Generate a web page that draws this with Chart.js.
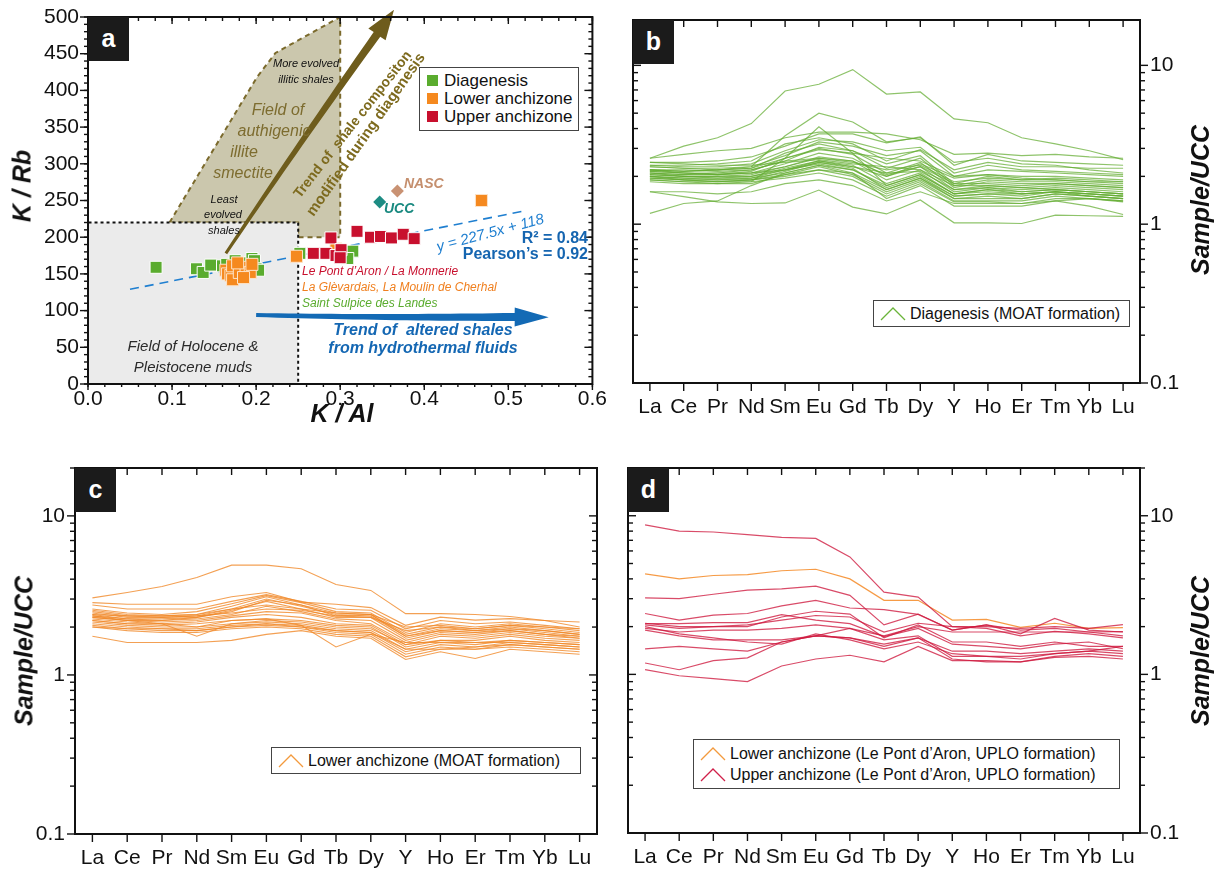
<!DOCTYPE html>
<html>
<head>
<meta charset="utf-8">
<script src="https://cdn.jsdelivr.net/npm/chart.js@4.4.1/dist/chart.umd.min.js"></script>
<style>
  body { margin: 0; background: #fff; font-family: 'Liberation Sans', Arial, sans-serif; color: #111; }
  #fig { position: relative; width: 1220px; height: 870px; overflow: hidden; background: #fff; }
  .panel { position: absolute; }
  .t { position: absolute; white-space: nowrap; line-height: 1; transform: translate(-50%, -50%); }
  .l { transform: translate(0, -50%); }
  .r { transform: translate(-100%, -50%); }
  .it { font-style: italic; }
  .b { font-weight: bold; }
  .ttl { font-weight: bold; font-style: italic; font-size: 25px; }
  .tag { position: absolute; width: 41px; height: 44px; background: #1b1b1b; color: #fff; font-weight: bold; font-size: 25px; text-align: center; line-height: 42px; }
  .leg { position: absolute; border: 1.5px solid #444; background: #fff; box-sizing: border-box; }
  .row { position: absolute; left: 0; white-space: nowrap; font-size: 16px; line-height: 1; }
  .row svg { position: absolute; left: 6px; top: -1px; }
  .row span { position: absolute; top: 0; }
  .sq { position: absolute; width: 11px; height: 11px; }
</style>
</head>
<body>
<div id="fig">
  <div class="panel" style="left:0;top:0"><canvas id="ca" width="610" height="430"></canvas></div>
  <div class="panel" style="left:610px;top:0"><canvas id="cb" width="610" height="430"></canvas></div>
  <div class="panel" style="left:0;top:430px"><canvas id="cc" width="610" height="440"></canvas></div>
  <div class="panel" style="left:610px;top:430px"><canvas id="cd" width="610" height="440"></canvas></div>

  <!-- panel a labels -->
  <div class="tag" style="left:88px;top:17px">a</div>
  <div class="t ttl" style="left:22px;top:186px;transform:translate(-50%,-50%) rotate(-90deg)">K / Rb</div>
  <div class="t ttl" style="left:342px;top:413px">K / Al</div>

  <div class="t it" style="left:306px;top:63px;font-size:11px">More evolved</div>
  <div class="t it" style="left:306px;top:79px;font-size:11px">illitic shales</div>
  <div class="t it" style="left:278px;top:110px;font-size:16px;color:#7d6c2f">Field of</div>
  <div class="t it" style="left:274px;top:131px;font-size:16px;color:#7d6c2f">authigenic</div>
  <div class="t it" style="left:244px;top:152px;font-size:16px;color:#7d6c2f">illite</div>
  <div class="t it" style="left:243px;top:173px;font-size:16px;color:#7d6c2f">smectite</div>
  <div class="t it" style="left:224px;top:199px;font-size:11px">Least</div>
  <div class="t it" style="left:223px;top:214px;font-size:11px">evolved</div>
  <div class="t it" style="left:224px;top:230px;font-size:11px">shales</div>
  <div class="t b" style="left:352px;top:124px;font-size:14px;color:#7d6a1e;transform:translate(-50%,-50%) rotate(-52deg)">Trend of&nbsp; shale compositon</div>
  <div class="t b" style="left:365px;top:134px;font-size:15px;color:#7d6a1e;transform:translate(-50%,-50%) rotate(-55deg)">modified during diagenesis</div>
  <div class="t l b it" style="left:404px;top:183px;font-size:14px;color:#c58f6e">NASC</div>
  <div class="t l b it" style="left:384px;top:208px;font-size:14px;color:#1a8a80">UCC</div>
  <div class="t it" style="left:490px;top:232px;font-size:15px;color:#1f7fd0;transform:translate(-50%,-50%) rotate(-15deg)">y = 227.5x + 118</div>
  <div class="t r b" style="left:588px;top:238px;font-size:16px;color:#1565b0">R² = 0.84</div>
  <div class="t r b" style="left:588px;top:254px;font-size:16px;color:#1565b0">Pearson’s = 0.92</div>
  <div class="t l it" style="left:302px;top:271px;font-size:12px;color:#c8102e">Le Pont d’Aron / La Monnerie</div>
  <div class="t l it" style="left:302px;top:287px;font-size:12px;color:#f08020">La Glèvardais, La Moulin de Cherhal</div>
  <div class="t l it" style="left:302px;top:303px;font-size:12px;color:#5aac2e">Saint Sulpice des Landes</div>
  <div class="t b it" style="left:423px;top:330px;font-size:16px;color:#1467b3">Trend of&nbsp; altered shales</div>
  <div class="t b it" style="left:423px;top:348px;font-size:16px;color:#1467b3">from hydrothermal fluids</div>
  <div class="t it" style="left:193px;top:345px;font-size:15px;color:#2a2a2a">Field of Holocene &amp;</div>
  <div class="t it" style="left:193px;top:366px;font-size:15px;color:#2a2a2a">Pleistocene muds</div>

  <div class="leg" style="left:419px;top:67px;width:160px;height:64px">
    <div class="sq" style="left:7px;top:7px;background:#5aac2e"></div>
    <div class="row" style="left:24px;top:4px;font-size:17px">Diagenesis</div>
    <div class="sq" style="left:7px;top:25px;background:#f5891f"></div>
    <div class="row" style="left:24px;top:22px;font-size:17px">Lower anchizone</div>
    <div class="sq" style="left:7px;top:43px;background:#c8102e"></div>
    <div class="row" style="left:24px;top:40px;font-size:17px">Upper anchizone</div>
  </div>

  <!-- panel b -->
  <div class="tag" style="left:633px;top:20px">b</div>
  <div class="t ttl" style="left:1200px;top:200px;transform:translate(-50%,-50%) rotate(-90deg)">Sample/UCC</div>
  <div class="leg" style="left:873px;top:300px;width:257px;height:27px">
    <div class="row" style="top:5px"><svg width="26" height="16"><polyline points="1,15 13,3 25,15" fill="none" stroke="#6ab43a" stroke-width="1.3"/></svg><span style="left:36px">Diagenesis (MOAT formation)</span></div>
  </div>

  <!-- panel c -->
  <div class="tag" style="left:75px;top:468px">c</div>
  <div class="t ttl" style="left:24px;top:651px;transform:translate(-50%,-50%) rotate(-90deg)">Sample/UCC</div>
  <div class="leg" style="left:271px;top:747px;width:310px;height:27px">
    <div class="row" style="top:5px"><svg width="26" height="16"><polyline points="1,15 13,3 25,15" fill="none" stroke="#f39a3d" stroke-width="1.3"/></svg><span style="left:36px">Lower anchizone (MOAT formation)</span></div>
  </div>

  <!-- panel d -->
  <div class="tag" style="left:628px;top:468px">d</div>
  <div class="t ttl" style="left:1200px;top:651px;transform:translate(-50%,-50%) rotate(-90deg)">Sample/UCC</div>
  <div class="leg" style="left:693px;top:739px;width:427px;height:50px">
    <div class="row" style="top:6px"><svg width="26" height="16"><polyline points="1,15 13,3 25,15" fill="none" stroke="#f39a3d" stroke-width="1.3"/></svg><span style="left:36px">Lower anchizone (Le Pont d’Aron, UPLO formation)</span></div>
    <div class="row" style="top:27px"><svg width="26" height="16"><polyline points="1,15 13,3 25,15" fill="none" stroke="#d0204a" stroke-width="1.3"/></svg><span style="left:36px">Upper anchizone (Le Pont d’Aron, UPLO formation)</span></div>
  </div>
</div>

<script>
const family = "'Liberation Sans', Arial, sans-serif";

// ---- panel a : K/Al vs K/Rb ----
const diagX = [0.081, 0.129, 0.137, 0.146, 0.160, 0.165, 0.175, 0.190, 0.195, 0.198, 0.200, 0.203, 0.252, 0.307, 0.315, 0.309];
const diagY = [159, 157, 152, 162, 161, 163, 168, 165, 171, 168, 157, 155, 178, 176, 181, 171];
const lowerX = [0.164, 0.166, 0.170, 0.172, 0.172, 0.180, 0.188, 0.193, 0.195, 0.178, 0.185, 0.248, 0.295, 0.468];
const lowerY = [155, 150, 148, 161, 142, 152, 159, 152, 163, 165, 145, 174, 184, 250];
const upperX = [0.268, 0.283, 0.289, 0.295, 0.301, 0.300, 0.320, 0.336, 0.348, 0.361, 0.375, 0.388];
const upperY = [178, 178, 199, 175, 183, 172, 208, 200, 201, 199, 204, 198];
const nascX = [0.368], nascY = [263];
const uccX = [0.347], uccY = [248];
const fitX = [0.05, 0.52], fitY = [129, 236];
const holoceneX = [0, 0, 0.25, 0.25, 0];
const holoceneY = [0, 220, 220, 0, 0];
const illiteX = [0.097, 0.201, 0.223, 0.300, 0.300, 0.250, 0.250, 0.097];
const illiteY = [220, 418, 451, 500, 200, 200, 220, 220];

// ---- panels b, c, d : REE normalised to UCC ----
const ree = ['La', 'Ce', 'Pr', 'Nd', 'Sm', 'Eu', 'Gd', 'Tb', 'Dy', 'Y', 'Ho', 'Er', 'Tm', 'Yb', 'Lu'];
const logTicks = [0.1, 1, 10];
const logTickLabels = ['0.1', '1', '10'];

const diagREE = [
  [2.6, 3.1, 3.5, 4.3, 6.9, 7.6, 9.4, 6.6, 6.8, 4.6, 4.35, 3.5, 3.2, 2.9, 2.55],
  [2.2, 2.15, 2.2, 2.3, 3.6, 5.0, 4.4, 3.3, 3.5, 2.45, 2.6, 2.4, 2.35, 2.2, 2.1],
  [1.95, 1.9, 1.85, 1.85, 2.6, 4.1, 2.8, 1.75, 2.05, 1.55, 1.65, 1.55, 1.6, 1.5, 1.45],
  [2.6, 2.75, 2.9, 3.0, 3.5, 3.8, 3.8, 3.7, 3.4, 2.75, 2.8, 2.7, 2.75, 2.65, 2.6],
  [2.45, 2.45, 2.5, 2.65, 3.1, 3.7, 3.7, 3.25, 3.55, 2.35, 2.75, 2.5, 2.45, 2.4, 2.35],
  [2.35, 2.3, 2.3, 2.4, 2.9, 3.4, 3.3, 2.9, 3.05, 2.1, 2.35, 2.2, 2.15, 2.1, 2.05],
  [2.3, 2.25, 2.25, 2.3, 2.7, 3.3, 3.1, 2.7, 2.9, 2.0, 2.2, 2.15, 2.1, 2.05, 2.0],
  [2.2, 2.15, 2.2, 2.25, 2.8, 3.2, 2.9, 2.4, 2.7, 1.8, 2.0, 1.9, 1.95, 1.9, 1.85],
  [2.2, 2.1, 2.1, 2.2, 2.5, 3.05, 2.9, 2.25, 2.6, 1.75, 1.9, 1.85, 1.85, 1.8, 1.75],
  [2.15, 2.1, 2.05, 2.15, 2.6, 3.0, 2.75, 2.1, 2.45, 1.7, 1.85, 1.8, 1.8, 1.75, 1.7],
  [2.1, 2.05, 2.05, 2.1, 2.4, 2.8, 2.6, 2.0, 2.3, 1.65, 1.75, 1.7, 1.75, 1.7, 1.65],
  [2.1, 2.0, 2.0, 2.05, 2.3, 2.65, 2.5, 1.9, 2.2, 1.6, 1.7, 1.65, 1.7, 1.65, 1.6],
  [2.05, 2.0, 1.95, 2.0, 2.25, 2.5, 2.35, 1.8, 2.1, 1.55, 1.65, 1.6, 1.65, 1.6, 1.55],
  [2.0, 1.95, 1.95, 1.95, 2.2, 2.4, 2.2, 1.7, 2.0, 1.5, 1.55, 1.5, 1.6, 1.55, 1.5],
  [2.0, 1.95, 1.9, 1.95, 2.1, 2.35, 2.1, 1.65, 1.95, 1.45, 1.5, 1.45, 1.55, 1.5, 1.45],
  [1.95, 1.9, 1.9, 1.9, 2.05, 2.3, 2.05, 1.6, 1.9, 1.45, 1.45, 1.45, 1.55, 1.5, 1.45],
  [1.9, 1.85, 1.85, 1.9, 2.0, 2.2, 2.0, 1.55, 1.85, 1.4, 1.4, 1.4, 1.5, 1.45, 1.4],
  [1.9, 1.85, 1.8, 1.85, 1.95, 2.1, 1.9, 1.5, 1.8, 1.38, 1.38, 1.35, 1.45, 1.45, 1.38],
  [2.3, 2.25, 2.2, 2.25, 2.6, 2.95, 2.8, 2.6, 2.5, 2.0, 2.05, 2.0, 2.0, 1.95, 1.9],
  [2.2, 2.2, 2.15, 2.2, 2.5, 2.6, 2.45, 2.2, 2.35, 1.85, 1.95, 1.9, 1.9, 1.85, 1.85],
  [2.15, 2.1, 2.05, 2.1, 2.3, 2.6, 2.5, 2.05, 2.3, 1.8, 1.8, 1.75, 1.8, 1.75, 1.7],
  [2.05, 2.0, 2.0, 2.0, 2.2, 2.45, 2.3, 2.1, 2.15, 1.65, 1.7, 1.6, 1.65, 1.6, 1.55],
  [1.17, 1.35, 1.4, 1.75, 2.1, 2.35, 2.2, 1.75, 2.05, 1.55, 1.6, 1.55, 1.6, 1.55, 1.5],
  [1.6, 1.49, 1.38, 1.35, 1.36, 1.64, 1.28, 1.16, 1.42, 1.02, 1.02, 1.01, 1.14, 1.13, 1.12],
  [1.6, 1.6, 1.55, 1.6, 1.8, 1.9, 1.75, 1.4, 1.6, 1.35, 1.35, 1.35, 1.4, 1.3, 1.15],
  [2.45, 2.4, 2.35, 2.35, 2.45, 2.55, 2.4, 2.3, 2.2, 1.75, 1.75, 1.7, 1.65, 1.6, 1.55],
  [2.35, 2.35, 2.4, 2.5, 3.2, 3.5, 3.2, 2.5, 2.95, 2.2, 2.45, 2.3, 2.3, 2.25, 2.25],
  [1.85, 1.8, 1.8, 1.8, 2.05, 2.2, 2.1, 1.45, 1.75, 1.3, 1.3, 1.3, 1.4, 1.45, 1.4],
  [2.0, 1.9, 1.85, 1.9, 2.15, 2.45, 2.25, 1.65, 1.95, 1.5, 1.55, 1.55, 1.6, 1.55, 1.5],
  [2.1, 2.05, 2.1, 2.1, 2.2, 2.5, 2.3, 2.0, 2.4, 1.95, 2.05, 1.95, 1.9, 1.85, 1.8]
];

const lowerREE = [
  [3.05, 3.3, 3.6, 4.1, 4.9, 4.9, 4.65, 3.7, 3.4, 2.43, 2.43, 2.4, 2.33, 2.2, 2.0],
  [2.85, 2.78, 2.78, 2.78, 3.1, 3.3, 2.87, 2.78, 2.65, 2.05, 2.31, 2.21, 2.26, 2.2, 2.15],
  [2.75, 2.6, 2.6, 2.6, 2.9, 3.2, 2.9, 2.6, 2.55, 1.95, 2.2, 2.1, 2.15, 2.05, 1.95],
  [2.6, 2.45, 2.4, 2.5, 2.8, 3.15, 2.85, 2.5, 2.45, 1.85, 2.1, 2.0, 2.1, 2.0, 1.9],
  [2.5, 2.35, 2.35, 2.4, 2.7, 3.1, 2.75, 2.45, 2.4, 1.8, 2.0, 1.95, 2.05, 1.95, 1.85],
  [2.45, 2.3, 2.3, 2.35, 2.6, 3.0, 2.7, 2.4, 2.35, 1.75, 1.95, 1.9, 2.0, 1.9, 1.8],
  [2.4, 2.25, 2.2, 2.3, 2.55, 2.9, 2.6, 2.3, 2.3, 1.7, 1.9, 1.85, 1.95, 1.85, 1.75],
  [2.35, 2.2, 2.2, 2.25, 2.4, 2.7, 2.5, 2.25, 2.2, 1.65, 1.85, 1.8, 1.9, 1.8, 1.7],
  [2.3, 2.2, 2.15, 2.2, 2.35, 2.5, 2.45, 2.2, 2.1, 1.6, 1.8, 1.75, 1.85, 1.75, 1.7],
  [2.25, 2.15, 2.1, 2.15, 2.3, 2.4, 2.3, 2.1, 2.05, 1.55, 1.75, 1.7, 1.8, 1.7, 1.65],
  [2.2, 2.1, 2.05, 2.1, 2.2, 2.25, 2.2, 2.05, 2.0, 1.5, 1.65, 1.65, 1.75, 1.65, 1.6],
  [2.15, 2.05, 2.0, 2.0, 2.1, 2.15, 2.1, 1.95, 1.9, 1.45, 1.6, 1.55, 1.65, 1.6, 1.55],
  [2.1, 2.0, 1.95, 1.95, 2.05, 2.1, 2.05, 1.9, 1.85, 1.4, 1.55, 1.5, 1.6, 1.55, 1.5],
  [2.05, 1.95, 1.9, 1.9, 2.0, 2.05, 2.0, 1.85, 1.8, 1.35, 1.5, 1.45, 1.55, 1.5, 1.45],
  [2.0, 1.9, 1.85, 1.85, 1.95, 2.0, 1.95, 1.8, 1.75, 1.3, 1.45, 1.45, 1.5, 1.45, 1.4],
  [1.75, 1.6, 1.6, 1.6, 1.65, 1.8, 1.9, 1.75, 1.7, 1.25, 1.4, 1.27, 1.45, 1.4, 1.35],
  [2.3, 2.2, 2.1, 2.0, 2.2, 2.25, 2.05, 1.5, 1.8, 1.6, 1.6, 1.6, 1.6, 1.55, 1.5],
  [2.55, 2.4, 2.35, 2.4, 2.6, 2.75, 2.6, 2.45, 2.4, 2.0, 2.05, 1.95, 2.05, 2.0, 1.95],
  [2.4, 2.35, 2.3, 2.35, 2.45, 2.6, 2.55, 2.35, 2.3, 1.9, 2.0, 1.9, 1.95, 1.9, 1.8],
  [2.2, 2.1, 2.1, 1.75, 2.1, 2.2, 2.15, 2.0, 1.95, 1.55, 1.65, 1.6, 1.65, 1.6, 1.55],
  [2.0, 1.95, 1.95, 1.9, 2.0, 2.1, 2.0, 1.9, 1.85, 1.45, 1.45, 1.5, 1.55, 1.5, 1.45],
  [2.35, 2.25, 2.25, 2.3, 2.5, 2.95, 2.75, 2.35, 2.4, 1.75, 1.9, 1.85, 1.9, 1.8, 1.75]
];

const uploLowerREE = [
  [4.3, 4.0, 4.2, 4.25, 4.5, 4.6, 4.0, 2.93, 2.93, 2.2, 2.22, 1.98, 2.1, 1.95, 1.97]
];
const uploUpperREE = [
  [8.75, 8.0, 7.9, 7.6, 7.3, 7.2, 5.5, 3.3, 3.07, 2.0, 1.95, 1.75, 1.87, 1.8, 1.7],
  [3.04, 3.0, 3.2, 3.4, 3.46, 3.6, 3.15, 2.05, 2.4, 1.9, 2.05, 1.9, 1.95, 1.85, 1.75],
  [2.42, 2.2, 2.36, 2.42, 2.7, 2.93, 2.62, 2.56, 2.39, 1.9, 2.05, 1.8, 2.25, 1.9, 1.85],
  [2.09, 2.09, 2.12, 2.12, 2.38, 2.2, 2.09, 1.73, 1.95, 1.55, 1.5, 1.45, 1.55, 1.6, 1.45],
  [2.05, 1.95, 2.0, 2.05, 2.2, 2.35, 2.3, 1.85, 2.1, 2.0, 2.0, 1.95, 2.0, 1.95, 2.06],
  [1.95, 1.85, 1.9, 1.9, 1.95, 2.05, 1.95, 1.75, 2.0, 1.85, 1.85, 1.85, 1.85, 1.85, 1.86],
  [1.9, 1.75, 1.65, 1.65, 1.65, 1.75, 1.7, 1.55, 1.7, 1.4, 1.4, 1.35, 1.4, 1.45, 1.4],
  [1.45, 1.5, 1.45, 1.4, 1.6, 1.75, 1.95, 1.65, 1.75, 1.3, 1.3, 1.25, 1.35, 1.4, 1.35],
  [1.18, 1.07, 1.22, 1.27, 1.6, 1.75, 1.7, 1.5, 1.7, 1.25, 1.2, 1.2, 1.3, 1.35, 1.3],
  [1.07, 0.98, 0.94, 0.9, 1.13, 1.25, 1.32, 1.2, 1.5, 1.22, 1.22, 1.2, 1.28, 1.3, 1.25],
  [2.0, 1.8, 1.7, 1.6, 1.55, 1.8, 1.65, 1.45, 1.6, 1.35, 1.3, 1.3, 1.35, 1.4, 1.5],
  [2.1, 2.0, 2.0, 2.0, 2.3, 2.5, 2.4, 1.7, 2.05, 1.6, 1.6, 1.5, 1.6, 1.5, 1.5]
];

// tick positions for the frame marks
function steps(from, to, step) {
  const out = [];
  for (let i = 0; from + i * step <= to + 1e-9; i++) out.push(+(from + i * step).toFixed(4));
  return out;
}
const aXMajor = steps(0, 0.6, 0.1);
const aXMinor = steps(0, 0.6, 0.02);
const aYMajor = steps(0, 500, 50);
const aYMinor = steps(0, 500, 10);
const logMinor = [];
[0.1, 1, 10].forEach(d => { for (let k = 2; k <= 9; k++) logMinor.push(+(d * k).toFixed(2)); });
const catIdx = ree.map((_, i) => i);

const xy = (xs, ys) => xs.map((x, i) => ({ x, y: ys[i] }));

// frame with tick marks on all four sides
const frameTicks = {
  id: 'frameTicks',
  afterDraw(chart, args, opts) {
    const ctx = chart.ctx, a = chart.chartArea;
    ctx.save();
    ctx.strokeStyle = '#111';
    ctx.lineWidth = 1.4;
    for (const s of opts.sides) {
      const sc = chart.scales[s.scale];
      const horiz = s.edge === 'top' || s.edge === 'bottom';
      const base = a[s.edge];
      const outward = (s.edge === 'left' || s.edge === 'top') ? -1 : 1;
      const dir = s.out ? outward : -outward;
      const sets = [[s.major, s.majorLen || 8], [s.minor || [], s.minorLen || 4]];
      for (const [vals, len] of sets) {
        for (const v of vals) {
          const p = sc.getPixelForValue(v);
          if (horiz ? (p < a.left - 0.5 || p > a.right + 0.5) : (p < a.top - 0.5 || p > a.bottom + 0.5)) continue;
          ctx.beginPath();
          if (horiz) { ctx.moveTo(p, base); ctx.lineTo(p, base + dir * len); }
          else { ctx.moveTo(base, p); ctx.lineTo(base + dir * len, p); }
          ctx.stroke();
        }
      }
    }
    ctx.lineWidth = 2;
    ctx.strokeRect(a.left, a.top, a.right - a.left, a.bottom - a.top);
    ctx.restore();
  }
};

// tapered arrows of panel a, anchored in data units
function taper(ctx, p0, p1, o) {
  const dx = p1.x - p0.x, dy = p1.y - p0.y, L = Math.hypot(dx, dy);
  const ux = dx / L, uy = dy / L, nx = -uy, ny = ux;
  const bx = p1.x - ux * o.headL, by = p1.y - uy * o.headL;
  const cx = (p0.x + bx) / 2 + nx * o.bend, cy = (p0.y + by) / 2 + ny * o.bend;
  const left = [], right = [];
  for (let i = 0; i <= 24; i++) {
    const t = i / 24, mt = 1 - t;
    const px = mt * mt * p0.x + 2 * mt * t * cx + t * t * bx;
    const py = mt * mt * p0.y + 2 * mt * t * cy + t * t * by;
    let tx = 2 * mt * (cx - p0.x) + 2 * t * (bx - cx), ty = 2 * mt * (cy - p0.y) + 2 * t * (by - cy);
    const tl = Math.hypot(tx, ty); tx /= tl; ty /= tl;
    const w = (o.w0 + (o.w1 - o.w0) * t) / 2;
    left.push([px - ty * w, py + tx * w]);
    right.push([px + ty * w, py - tx * w]);
  }
  ctx.beginPath();
  left.forEach(([x, y], i) => i ? ctx.lineTo(x, y) : ctx.moveTo(x, y));
  ctx.lineTo(bx + nx * o.headW / 2, by + ny * o.headW / 2);
  ctx.lineTo(p1.x, p1.y);
  ctx.lineTo(bx - nx * o.headW / 2, by - ny * o.headW / 2);
  for (let i = right.length - 1; i >= 0; i--) ctx.lineTo(right[i][0], right[i][1]);
  ctx.closePath();
  ctx.fillStyle = o.color;
  ctx.fill();
}
const arrows = {
  id: 'arrows',
  afterDatasetsDraw(chart, args, opts) {
    const { ctx, scales: { x, y } } = chart;
    ctx.save();
    for (const ar of opts.items) {
      const p0 = { x: x.getPixelForValue(ar.from[0]), y: y.getPixelForValue(ar.from[1]) };
      const p1 = { x: x.getPixelForValue(ar.to[0]), y: y.getPixelForValue(ar.to[1]) };
      taper(ctx, p0, p1, ar);
    }
    ctx.restore();
  }
};

const tickFont = { size: 21, family };

new Chart(document.getElementById('ca'), {
  type: 'scatter',
  data: {
    datasets: [
      { label: 'Upper anchizone', data: xy(upperX, upperY), pointStyle: 'rect', pointRadius: 8.5, backgroundColor: '#c8102e', borderColor: '#fff', borderWidth: 1, order: 1 },
      { label: 'Lower anchizone', data: xy(lowerX, lowerY), pointStyle: 'rect', pointRadius: 8.5, backgroundColor: '#f5891f', borderColor: '#fde3c8', borderWidth: 1, order: 2 },
      { label: 'Diagenesis', data: xy(diagX, diagY), pointStyle: 'rect', pointRadius: 8.5, backgroundColor: '#5aac2e', borderColor: '#fff', borderWidth: 1, order: 3 },
      { label: 'NASC', data: xy(nascX, nascY), pointStyle: 'rectRot', pointRadius: 6.5, backgroundColor: '#c99273', borderWidth: 0, order: 1 },
      { label: 'UCC', data: xy(uccX, uccY), pointStyle: 'rectRot', pointRadius: 6.5, backgroundColor: '#1d8c83', borderWidth: 0, order: 1 },
      { type: 'line', label: 'fit', data: xy(fitX, fitY), borderColor: '#1f7fd0', borderDash: [9, 6], borderWidth: 1.6, pointRadius: 0, fill: false, order: 5 },
      { type: 'line', label: 'Holocene', data: xy(holoceneX, holoceneY), borderColor: '#111', borderDash: [3, 3], borderWidth: 2, backgroundColor: '#ebebeb', pointRadius: 0, fill: 'shape', order: 7 },
      { type: 'line', label: 'illite', data: xy(illiteX, illiteY), borderColor: '#7b6a2c', borderDash: [5, 4], borderWidth: 2, backgroundColor: '#cbc7ad', pointRadius: 0, fill: 'shape', order: 8 }
    ]
  },
  plugins: [arrows, frameTicks],
  options: {
    animation: false, responsive: false, events: [],
    layout: { padding: { top: 17, right: 12, left: 0, bottom: 0 } },
    plugins: {
      legend: { display: false }, tooltip: { enabled: false },
      arrows: { items: [
        { from: [0.164, 178], to: [0.364, 510], w0: 3, w1: 8, headL: 30, headW: 21, bend: -2, color: '#6e5c1c' },
        { from: [0.20, 94], to: [0.548, 91], w0: 4, w1: 8, headL: 34, headW: 19, bend: 2, color: '#136ab5' }
      ] },
      frameTicks: { sides: [
        { edge: 'left', scale: 'y', out: true, major: aYMajor, minor: aYMinor, majorLen: 8, minorLen: 4 },
        { edge: 'right', scale: 'y', out: false, major: aYMajor, minor: aYMinor, majorLen: 8, minorLen: 4 },
        { edge: 'bottom', scale: 'x', out: true, major: aXMajor, minor: aXMinor, majorLen: 6, minorLen: 3 },
        { edge: 'top', scale: 'x', out: false, major: aXMajor, minor: aXMinor, majorLen: 7, minorLen: 4 }
      ] }
    },
    scales: {
      x: { type: 'linear', min: 0, max: 0.6, afterFit: s => { s.height = 46; },
           grid: { display: false, tickLength: 0 }, border: { display: false },
           ticks: { stepSize: 0.1, padding: 3, color: '#111', font: tickFont, callback: v => v.toFixed(1) } },
      y: { type: 'linear', min: 0, max: 500, afterFit: s => { s.width = 88; },
           grid: { display: false, tickLength: 8 }, border: { display: false },
           ticks: { stepSize: 50, padding: 1, color: '#111', font: tickFont } }
    }
  }
});

function reeChart(id, groups, side, pad, xHeight, yWidth, yMax) {
  const datasets = [];
  groups.forEach(g => g.rows.forEach(r => datasets.push({
    data: r, borderColor: g.color, borderWidth: g.width, pointRadius: 0, tension: 0, fill: false
  })));
  new Chart(document.getElementById(id), {
    type: 'line',
    data: { labels: ree, datasets },
    plugins: [frameTicks],
    options: {
      animation: false, responsive: false, events: [],
      layout: { padding: pad },
      plugins: {
        legend: { display: false }, tooltip: { enabled: false },
        frameTicks: { sides: [
          { edge: 'left', scale: 'y', out: side === 'left', major: logTicks, minor: logMinor, majorLen: 8, minorLen: 5 },
          { edge: 'right', scale: 'y', out: side === 'right', major: logTicks, minor: logMinor, majorLen: 8, minorLen: 5 },
          { edge: 'bottom', scale: 'x', out: true, major: catIdx, majorLen: 8 },
          { edge: 'top', scale: 'x', out: false, major: catIdx, majorLen: 7 }
        ] }
      },
      scales: {
        x: { type: 'category', offset: true, afterFit: s => { s.height = xHeight; },
             grid: { display: false, tickLength: 8 }, border: { display: false },
             ticks: { autoSkip: false, maxRotation: 0, padding: 4, color: '#111', font: tickFont } },
        y: { type: 'logarithmic', position: side, min: 0.1, max: yMax,
             afterFit: s => { s.width = yWidth; },
             afterBuildTicks: s => { s.ticks = logTicks.map(v => ({ value: v })); },
             grid: { display: false, tickLength: 8 }, border: { display: false },
             ticks: { padding: 2, color: '#111', font: tickFont, callback: v => logTickLabels[logTicks.indexOf(v)] ?? '' } }
      }
    }
  });
}

reeChart('cb', [{ rows: diagREE, color: 'rgba(98,172,48,0.72)', width: 1.2 }], 'right',
  { left: 23, top: 20, right: 0, bottom: 0 }, 47, 80, 19.3);
reeChart('cc', [{ rows: lowerREE, color: 'rgba(240,136,40,0.8)', width: 1.1 }], 'left',
  { left: 0, top: 38, right: 13, bottom: 0 }, 36, 75, 20);
reeChart('cd', [
  { rows: uploUpperREE, color: 'rgba(206,24,62,0.78)', width: 1.2 },
  { rows: uploLowerREE, color: 'rgba(245,150,60,0.95)', width: 1.2 }
], 'right', { left: 18, top: 38, right: 0, bottom: 0 }, 37, 80, 20);
</script>
</body>
</html>
